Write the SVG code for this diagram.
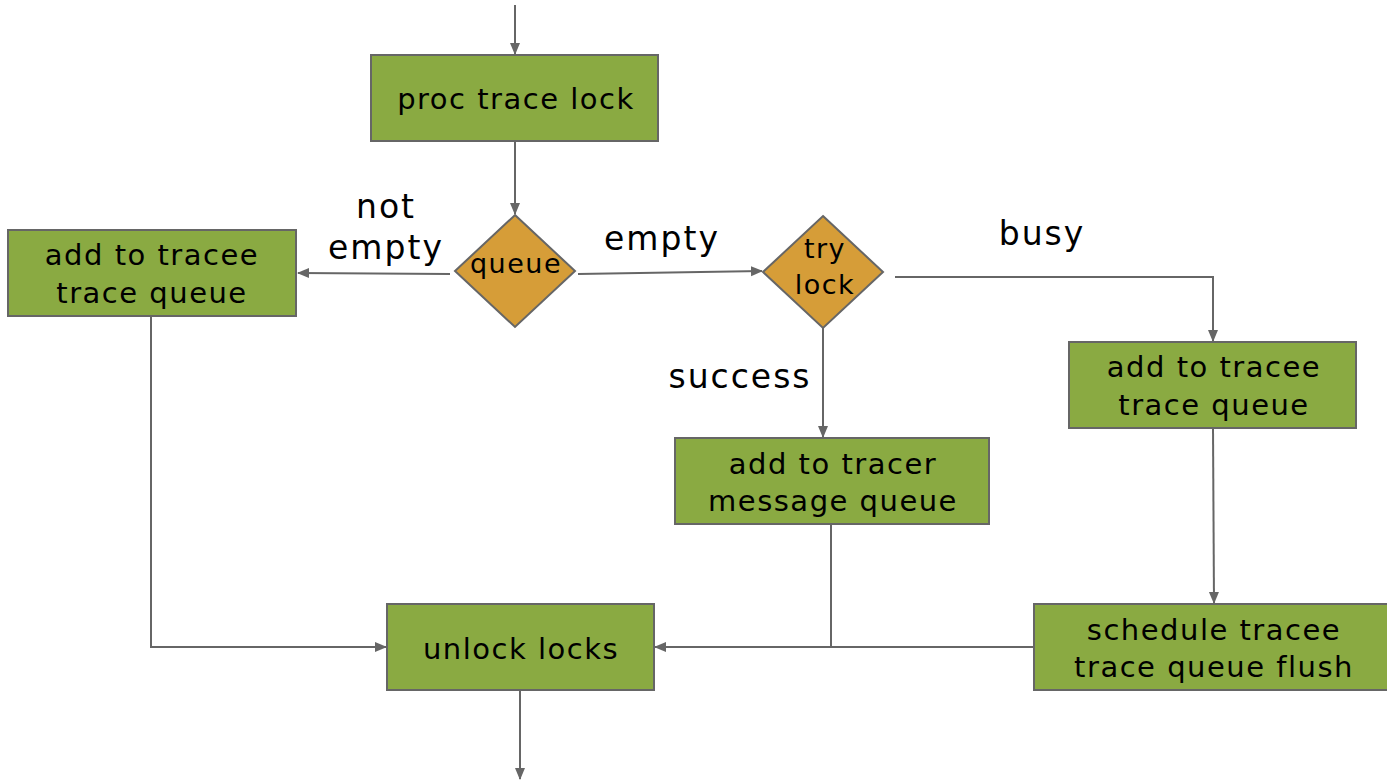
<svg xmlns="http://www.w3.org/2000/svg" width="1387" height="783" viewBox="0 0 1387 783">
<defs>
<marker id="ah" markerWidth="12" markerHeight="12" viewBox="0 0 12 12" refX="11" refY="6" orient="auto" markerUnits="userSpaceOnUse">
<path d="M0,1 L12,6 L0,11 Z" fill="#666"/>
</marker>
<style>
.box{fill:#8aaa42;stroke:#666;stroke-width:2}
.dia{fill:#d69d38;stroke:#666;stroke-width:2}
.ln{fill:none;stroke:#666;stroke-width:2}
.arr{fill:none;stroke:#666;stroke-width:2;marker-end:url(#ah)}
text{font-family:"DejaVu Sans","Noto Sans",sans-serif;fill:#000;text-anchor:middle}
.t{font-size:29px;letter-spacing:1.5px}
.l{font-size:33px;letter-spacing:2px}
.d{font-size:27px;letter-spacing:1.5px}
</style>
</defs>
<rect width="1387" height="783" fill="#fff"/>
<g id="connectors">
<line class="arr" x1="515" y1="5" x2="515" y2="54"/>
<line class="arr" x1="515" y1="141" x2="515" y2="214"/>
<line class="arr" x1="450" y1="274" x2="298" y2="273"/>
<line class="arr" x1="578" y1="274" x2="762" y2="271"/>
<polyline class="arr" points="895,277 1213,277 1213,341"/>
<line class="arr" x1="823" y1="328" x2="823" y2="437"/>
<line class="arr" x1="1213" y1="428" x2="1214" y2="603"/>
<polyline class="arr" points="151,316 151,647 386,647"/>
<line class="ln" x1="831" y1="524" x2="831" y2="647"/>
<line class="arr" x1="1034" y1="647" x2="655" y2="647"/>
<line class="arr" x1="520" y1="690" x2="520" y2="779"/>
</g>
<g id="n-proc">
<rect class="box" x="371" y="55" width="287" height="86"/>
<text class="t" x="516" y="109">proc trace lock</text>
</g>
<g id="n-queue">
<polygon class="dia" points="515,215 575,271 515,327 455,271"/>
<text class="d" x="516" y="273">queue</text>
</g>
<g id="n-trylock">
<polygon class="dia" points="823,216 883,272 823,328 763,272"/>
<text class="d" x="825" y="258">try</text>
<text class="d" x="825" y="294">lock</text>
</g>
<g id="n-add-left">
<rect class="box" x="8" y="230" width="288" height="86"/>
<text class="t" x="152" y="265">add to tracee</text>
<text class="t" x="152" y="303">trace queue</text>
</g>
<g id="n-add-right">
<rect class="box" x="1069" y="342" width="287" height="86"/>
<text class="t" x="1214" y="377">add to tracee</text>
<text class="t" x="1214" y="415">trace queue</text>
</g>
<g id="n-tracer">
<rect class="box" x="675" y="438" width="314" height="86"/>
<text class="t" x="833" y="474">add to tracer</text>
<text class="t" x="833" y="511">message queue</text>
</g>
<g id="n-unlock">
<rect class="box" x="387" y="604" width="267" height="86"/>
<text class="t" x="521" y="659">unlock locks</text>
</g>
<g id="n-schedule">
<rect class="box" x="1034" y="604" width="360" height="86"/>
<text class="t" x="1214" y="640">schedule tracee</text>
<text class="t" x="1214" y="677">trace queue flush</text>
</g>
<g id="labels">
<text class="l" x="386" y="218">not</text>
<text class="l" x="386" y="259">empty</text>
<text class="l" x="662" y="250">empty</text>
<text class="l" x="1042" y="245">busy</text>
<text class="l" x="740" y="388">success</text>
</g>
</svg>
